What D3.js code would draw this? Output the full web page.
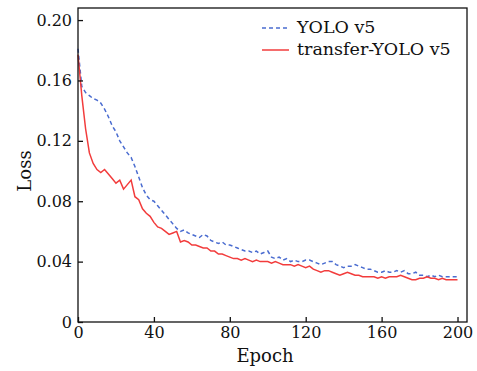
<!DOCTYPE html>
<html>
<head>
<meta charset="utf-8">
<script src="https://cdn.jsdelivr.net/npm/d3@7"></script>
<style>
  body { margin: 0; background: #fff; }
  text { font-family: "DejaVu Serif", serif; fill: #111; }
</style>
</head>
<body>
<div id="chart"></div>
<script>
// epochs 0, 2, 4, ... 200
const epochStep = 2;

const yoloLoss = [
  0.181, 0.156, 0.152, 0.150, 0.148, 0.147, 0.145, 0.141, 0.136, 0.130,
  0.126, 0.120, 0.116, 0.112, 0.109, 0.103, 0.096, 0.089, 0.084, 0.081,
  0.080, 0.077, 0.074, 0.071, 0.068, 0.065, 0.062, 0.060, 0.061, 0.059,
  0.058, 0.057, 0.056, 0.058, 0.057, 0.054, 0.053, 0.052, 0.053, 0.051,
  0.051, 0.050, 0.049, 0.048, 0.047, 0.047, 0.046, 0.047, 0.045, 0.046,
  0.047, 0.043, 0.042, 0.043, 0.041, 0.042, 0.040, 0.041, 0.040, 0.040,
  0.041, 0.041, 0.040, 0.039, 0.038, 0.039, 0.040, 0.040, 0.038, 0.037,
  0.036, 0.037, 0.037, 0.038, 0.037, 0.036, 0.035, 0.035, 0.034, 0.033,
  0.033, 0.034, 0.033, 0.033, 0.034, 0.033, 0.034, 0.032, 0.032, 0.033,
  0.031, 0.031, 0.030, 0.031, 0.030, 0.031, 0.030, 0.030, 0.030, 0.030,
  0.030
];

const transferLoss = [
  0.177, 0.150, 0.128, 0.112, 0.105, 0.101, 0.099, 0.101, 0.098, 0.095,
  0.092, 0.094, 0.088, 0.091, 0.094, 0.083, 0.081, 0.075, 0.072, 0.070,
  0.066, 0.063, 0.062, 0.060, 0.058, 0.059, 0.060, 0.053, 0.054, 0.053,
  0.051, 0.051, 0.050, 0.049, 0.049, 0.047, 0.047, 0.045, 0.045, 0.044,
  0.043, 0.042, 0.042, 0.041, 0.042, 0.041, 0.040, 0.041, 0.040, 0.040,
  0.040, 0.039, 0.040, 0.039, 0.038, 0.038, 0.038, 0.037, 0.038, 0.037,
  0.036, 0.037, 0.035, 0.034, 0.033, 0.034, 0.034, 0.033, 0.032, 0.031,
  0.032, 0.033, 0.032, 0.031, 0.031, 0.030, 0.030, 0.030, 0.030, 0.029,
  0.030, 0.029, 0.030, 0.030, 0.030, 0.031, 0.030, 0.029, 0.028, 0.028,
  0.029, 0.029, 0.030, 0.029, 0.029, 0.028, 0.029, 0.028, 0.028, 0.028,
  0.028
];

const xTicks = [0, 40, 80, 120, 160, 200];
const yTicks = [0, 0.04, 0.08, 0.12, 0.16, 0.20];
const seriesNames = ["YOLO v5", "transfer-YOLO v5"];

const width = 477;
const height = 371;
const margin = { top: 8, right: 10, bottom: 49, left: 78 };

const series = [
  { name: seriesNames[0], values: yoloLoss, color: "#4a6cd0", dash: "4,3" },
  { name: seriesNames[1], values: transferLoss, color: "#f23c3c", dash: null }
];

const svg = d3.select("#chart")
  .append("svg")
  .attr("width", width)
  .attr("height", height);

const x = d3.scaleLinear()
  .domain([0, 205])
  .range([margin.left, width - margin.right]);

const y = d3.scaleLinear()
  .domain([0, 0.208])
  .range([height - margin.bottom, margin.top]);

const line = d3.line()
  .x((d, i) => x(i * epochStep))
  .y(d => y(d));

svg.append("g")
  .selectAll("path")
  .data(series)
  .enter()
  .append("path")
  .attr("d", d => line(d.values))
  .attr("fill", "none")
  .attr("stroke", d => d.color)
  .attr("stroke-width", 1.5)
  .attr("stroke-dasharray", d => d.dash);

// frame
svg.append("rect")
  .attr("x", margin.left)
  .attr("y", margin.top)
  .attr("width", width - margin.left - margin.right)
  .attr("height", height - margin.top - margin.bottom)
  .attr("fill", "none")
  .attr("stroke", "#111")
  .attr("stroke-width", 1.3);

const xAxis = svg.append("g")
  .attr("transform", `translate(0, ${height - margin.bottom})`)
  .call(d3.axisBottom(x).tickValues(xTicks).tickSizeInner(-5).tickSizeOuter(0).tickPadding(5));

const yAxis = svg.append("g")
  .attr("transform", `translate(${margin.left}, 0)`)
  .call(d3.axisLeft(y).tickValues(yTicks).tickSizeInner(-5).tickSizeOuter(0).tickPadding(6)
    .tickFormat(d => d === 0 ? "0" : d3.format(".2f")(d)));

[xAxis, yAxis].forEach(ax => {
  ax.select(".domain").remove();
  ax.selectAll(".tick line").attr("stroke", "#111").attr("stroke-width", 1.3);
  ax.selectAll(".tick text")
    .attr("font-family", "DejaVu Serif, serif")
    .attr("font-size", 16)
    .attr("fill", "#111");
});

svg.append("text")
  .attr("x", 265)
  .attr("y", 362)
  .attr("text-anchor", "middle")
  .attr("font-size", 18)
  .text("Epoch");

svg.append("text")
  .attr("transform", "translate(31, 171) rotate(-90)")
  .attr("text-anchor", "middle")
  .attr("font-size", 18)
  .text("Loss");

// legend
const legend = svg.append("g")
  .selectAll("g")
  .data(series)
  .enter()
  .append("g")
  .attr("transform", (d, i) => `translate(262, ${28 + i * 22})`);

legend.append("line")
  .attr("x1", 0)
  .attr("x2", 27)
  .attr("stroke", d => d.color)
  .attr("stroke-width", 1.5)
  .attr("stroke-dasharray", d => d.dash);

legend.append("text")
  .attr("x", 35)
  .attr("y", 5)
  .attr("font-size", 17.5)
  .text(d => d.name);
</script>
</body>
</html>
